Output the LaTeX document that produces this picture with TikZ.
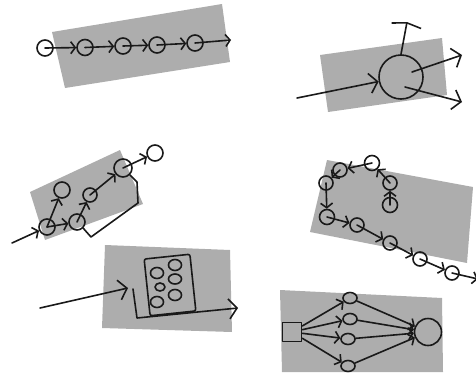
\documentclass[tikz,border=0pt]{standalone}
\usetikzlibrary{arrows.meta,shapes.geometric}
\begin{document}
\begin{tikzpicture}[x=1pt,y=-1pt,
  line cap=round, line join=round,
  ink/.style={draw=black!90, line width=1.6pt},
  pad/.style={fill=black!32, draw=none},
  blob/.style={circle, ink, inner sep=0pt, minimum size=#1},
  oval/.style={ellipse, ink, inner sep=0pt, minimum width=#1},
  flowline/.style={ink, -{Straight Barb[length=4.5pt,width=12pt]}},
  bigflow/.style={ink, -{Straight Barb[length=8pt,width=20pt]}}]
\useasboundingbox (0,0) rectangle (476,378);

% ---------- panel 1: chain ----------
\fill[pad] (52,32) -- (222,4) -- (230,62) -- (65,88) -- cycle;
\node[blob=16pt] (a1) at (45,48) {};
\node[blob=16pt] (a2) at (85,47.5) {};
\node[blob=16pt] (a3) at (123,46) {};
\node[blob=16pt] (a4) at (157,45) {};
\node[blob=16pt] (a5) at (195,43) {};
\coordinate (a6) at (231,40);
\draw[flowline] (a1.center) -- (a2);
\draw[flowline] (a2.center) -- (a3);
\draw[flowline] (a3.center) -- (a4);
\draw[flowline] (a4.center) -- (a5);
\draw[flowline] (a5.center) -- (a6);

% ---------- panel 2: one node, several outputs ----------
\fill[pad] (320,55) -- (442,38) -- (447,95) -- (328,112) -- cycle;
\node[blob=44pt] (b) at (401,77) {};
\coordinate (bin) at (297,98);
\coordinate (bup) at (407,22);
\coordinate (br1) at (462,55);
\coordinate (br2) at (462,102);
\draw[bigflow] (bin) -- (b);
\draw[ink, -{Straight Barb[length=3pt,width=30pt]}] (b.north) -- (bup);
\draw[bigflow] (b.center) ++(11,-5) -- (br1);
\draw[bigflow] (b.center) ++(4,10) -- (br2);

% ---------- panel 3: branching with feedback ----------
\fill[pad] (30,192) -- (120,150) -- (143,204) -- (45,240) -- cycle;
\node[blob=16pt] (c1) at (47,227) {};
\node[blob=16pt] (c2) at (62,190) {};
\node[blob=16pt] (c3) at (77,222) {};
\node[blob=14pt] (c4) at (90,195) {};
\node[blob=18pt] (c5) at (123,168) {};
\node[blob=16pt] (c6) at (155,153) {};
\coordinate (cin) at (12,243);
\draw[flowline] (cin) -- (c1);
\draw[flowline] (c1.center) -- (c3);
\draw[flowline] (c1.center) -- (c2);
\draw[flowline] (c3.center) -- (c4);
\draw[flowline] (c4.center) -- (c5);
\draw[flowline] (c5.center) -- (c6);
\draw[ink] (c5.south east) -- (137,182) -- (138,203) -- (91,237) -- (c3.south east);

% ---------- panel 4: loop into chain ----------
\fill[pad] (327,160) -- (473,187) -- (467,263) -- (310,232) -- cycle;
\node[blob=15pt] (p5) at (390,205) {};
\node[blob=14pt] (p4) at (390,183) {};
\node[blob=15pt] (p3) at (372,163) {};
\node[blob=14pt] (p2) at (340,170) {};
\node[blob=14pt] (p1) at (326,183) {};
\node[blob=15pt] (q1) at (327,217) {};
\node[blob=14pt] (q2) at (357,225) {};
\node[blob=14pt] (q3) at (390,243) {};
\node[blob=14pt] (q4) at (420,259) {};
\node[blob=14pt] (q5) at (452,273) {};
\coordinate (qout) at (478,279);
\draw[flowline] (p5.center) -- (p4);
\draw[flowline] (p4.center) -- (p3);
\draw[flowline] (p3.center) -- (p2);
\draw[flowline] (p2.center) -- (p1);
\draw[flowline] (p1.center) -- (q1);
\draw[flowline] (q1.center) -- (q2);
\draw[flowline] (q2.center) -- (q3);
\draw[flowline] (q3.center) -- (q4);
\draw[flowline] (q4.center) -- (q5);
\draw[flowline] (q5.center) -- (qout);

% ---------- panel 5: box of ovals ----------
\fill[pad] (105,245) -- (230,250) -- (232,332) -- (102,328) -- cycle;
\node[ink, rounded corners=2pt, rotate=6, minimum width=46pt, minimum height=57pt] (box) at (170,285) {};
\node[oval=13pt, minimum height=11pt] (o1) at (157,273) {};
\node[oval=13pt, minimum height=11pt] (o2) at (175,265) {};
\node[oval=10pt, minimum height=8pt] (o3) at (160,287) {};
\node[oval=13pt, minimum height=10pt] (o4) at (175,279) {};
\node[oval=13pt, minimum height=11pt] (o5) at (157,302) {};
\node[oval=13pt, minimum height=11pt] (o6) at (175,295) {};
\coordinate (ein) at (40,308);
\coordinate (eend) at (128,288);
\coordinate (e1) at (133,289);
\coordinate (e2) at (137,318);
\coordinate (eout) at (238,308);
\draw[bigflow] (ein) -- (eend);
\draw[bigflow] (e1) -- (e2) -- (eout);

% ---------- panel 6: fan out, fan in ----------
\fill[pad] (280,290) -- (442,298) -- (443,372) -- (282,372) -- cycle;
\node[ink, inner sep=0pt, minimum size=19pt] (sq) at (292,332) {};
\node[oval=14pt, minimum height=11pt] (s1) at (350,298) {};
\node[oval=14pt, minimum height=11pt] (s2) at (350,319) {};
\node[oval=14pt, minimum height=11pt] (s3) at (348,339) {};
\node[oval=14pt, minimum height=11pt] (s4) at (348,366) {};
\node[blob=27pt] (big) at (428,332) {};
\foreach \s in {s1,s2,s3,s4} {
  \draw[flowline] (sq) -- (\s);
  \draw[flowline] (\s) -- (big);
}
\end{tikzpicture}
\end{document}
